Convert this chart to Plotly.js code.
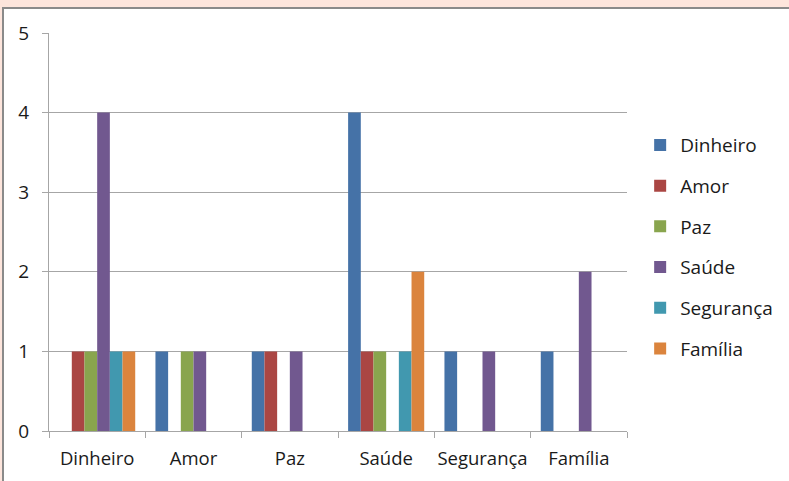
<!DOCTYPE html>
<html><head><meta charset="utf-8">
<script src="https://cdn.plot.ly/plotly-3.0.1.min.js"></script>
<style>
html,body{margin:0;padding:0;background:#fde5dc;overflow:hidden;width:789px;height:481px;}
#wrap{position:absolute;left:2px;top:7px;width:800px;height:490px;border-left:2px solid #8a8a8a;border-top:2px solid #8a8a8a;background:#fff;}
#chart{position:absolute;left:0;top:0;width:785px;height:472px;}
</style></head>
<body><div id="wrap"><div id="chart"></div></div>
<script>
const categories = ["Dinheiro","Amor","Paz","Saúde","Segurança","Família"];
const seriesNames = ["Dinheiro","Amor","Paz","Saúde","Segurança","Família"];
const dinheiro  = [0,1,1,4,1,1];
const amor      = [1,0,1,1,0,0];
const paz       = [1,1,0,1,0,0];
const saude     = [4,1,1,0,1,2];
const seguranca = [1,0,0,1,0,0];
const familia   = [1,0,0,2,0,0];
const colors = ["#4572A7","#AA4643","#89A54E","#71588F","#4198AF","#DB843D"];
const values = [dinheiro,amor,paz,saude,seguranca,familia];
const traces = values.map((v,i)=>({type:"bar",x:categories,y:v,name:seriesNames[i],
  marker:{color:colors[i],line:{width:0}},legendgroup:"g"+i}));
const layout = {
  width:785,height:472,
  margin:{l:45,r:161,t:24,b:50},
  paper_bgcolor:"#fff",plot_bgcolor:"#fff",
  barmode:"group",bargap:0.21,bargroupgap:0,
  font:{family:"'Open Sans', sans-serif",color:"#1a1a1a",size:18},
  xaxis:{showgrid:false,ticks:"outside",tickson:"boundaries",ticklen:6,tickcolor:"#a6a6a6",tickangle:0,
    showline:true,linecolor:"#a6a6a6",linewidth:1,tickfont:{size:18.5},ticklabelstandoff:11,fixedrange:true},
  yaxis:{range:[0,5],dtick:1,showgrid:true,gridcolor:"#a6a6a6",gridwidth:1,ticks:"outside",ticklen:6,
    tickcolor:"#a6a6a6",showline:true,linecolor:"#a6a6a6",zeroline:false,tickfont:{size:19},ticklabelstandoff:9},
  legend:{x:1.021,xanchor:"left",y:0.462,yanchor:"middle",font:{size:19},tracegroupgap:13,bgcolor:"rgba(0,0,0,0)"},
  showlegend:true
};
Plotly.newPlot("chart",traces,layout,{displayModeBar:false,staticPlot:true});
</script></body></html>
